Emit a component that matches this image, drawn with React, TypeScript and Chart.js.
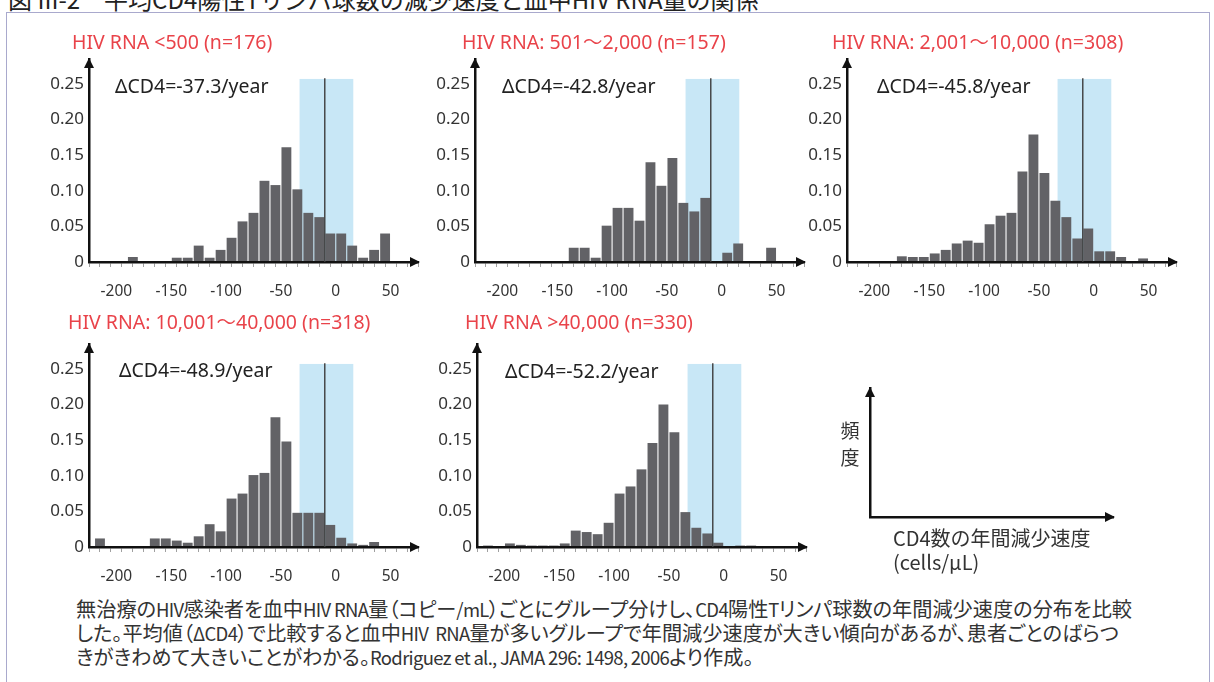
import { useEffect, useRef } from "react";
import { Chart, registerables } from "chart.js";

Chart.register(...registerables);

// ---------- data ----------
const binCenters = [
  -215, -205, -195, -185, -175, -165, -155, -145, -135, -125, -115, -105, -95, -85, -75,
  -65, -55, -45, -35, -25, -15, -5, 5, 15, 25, 35, 45, 55, 65,
];
const xTickLabels = [-200, -150, -100, -50, 0, 50];
const yTickLabels = ["0", "0.05", "0.10", "0.15", "0.20", "0.25"];

const groupTitles = [
  "HIV RNA <500 (n=176)",
  "HIV RNA: 501〜2,000 (n=157)",
  "HIV RNA: 2,001〜10,000 (n=308)",
  "HIV RNA: 10,001〜40,000 (n=318)",
  "HIV RNA >40,000 (n=330)",
];
const deltaCD4 = ["-37.3", "-42.8", "-45.8", "-48.9", "-52.2"];

const freqLt500 = [
  0, 0, 0, 0.007, 0, 0, 0, 0.006, 0.006, 0.023, 0.006, 0.017, 0.034, 0.057, 0.069,
  0.114, 0.108, 0.161, 0.102, 0.069, 0.063, 0.040, 0.040, 0.023, 0.006, 0.017, 0.040, 0, 0,
];
const freq501to2000 = [
  0, 0, 0, 0, 0, 0, 0, 0, 0.020, 0.020, 0.006, 0.051, 0.076, 0.076, 0.058,
  0.140, 0.107, 0.146, 0.083, 0.071, 0.090, 0, 0.013, 0.026, 0, 0, 0.020, 0, 0,
];
const freq2001to10000 = [
  0, 0, 0, 0, 0.008, 0.007, 0.007, 0.012, 0.017, 0.026, 0.030, 0.027, 0.053, 0.065, 0.069,
  0.127, 0.179, 0.125, 0.086, 0.063, 0.033, 0.047, 0.015, 0.015, 0.007, 0, 0.005, 0, 0,
];
const freq10001to40000 = [
  0.012, 0, 0, 0, 0, 0.012, 0.012, 0.009, 0.006, 0.015, 0.032, 0.022, 0.068, 0.075, 0.101,
  0.104, 0.182, 0.148, 0.048, 0.048, 0.048, 0.031, 0.013, 0.005, 0.003, 0.007, 0, 0, 0,
];
const freqGt40000 = [
  0.002, 0.001, 0.005, 0.003, 0.002, 0.002, 0.002, 0.005, 0.023, 0.021, 0.018, 0.034, 0.075, 0.085, 0.109,
  0.146, 0.200, 0.161, 0.049, 0.027, 0.019, 0.006, 0, 0.002, 0.002, 0.001, 0, 0, 0,
];
const seriesList = [freqLt500, freq501to2000, freq2001to10000, freq10001to40000, freqGt40000];

const bandRange = [-33, 16];
const bandTop = 0.257;
const refLine = -10;
const refLineTop = 0.258;

// ---------- layout / style ----------
const FONT = '"Noto Sans", "Noto Sans CJK JP", sans-serif';
const JP_FONT = '"Noto Sans CJK JP", "Noto Sans", sans-serif';
const Y_AXIS_W = 60;
const X_AXIS_H = 40;
const PAD_TOP = 45;
const PAD_RIGHT = 30;
const PLOT_W = 329;
const PLOT_H = 203;

const panelLayout = [
  { axisX: 89, zeroY: 262, titleDx: -17, titleDy: -219, deltaDx: 26, deltaDy: -175 },
  { axisX: 475, zeroY: 262, titleDx: -13, titleDy: -219, deltaDx: 27, deltaDy: -175 },
  { axisX: 847, zeroY: 262, titleDx: -15, titleDy: -219, deltaDx: 30, deltaDy: -175 },
  { axisX: 89, zeroY: 547, titleDx: -21, titleDy: -224, deltaDx: 30, deltaDy: -176 },
  { axisX: 477, zeroY: 547, titleDx: -12, titleDy: -224, deltaDx: 28, deltaDy: -175 },
];

function drawArrows(ctx: CanvasRenderingContext2D, area: any) {
  ctx.save();
  ctx.fillStyle = "#111";
  ctx.beginPath();
  ctx.moveTo(area.right + 2, area.bottom);
  ctx.lineTo(area.right - 8, area.bottom - 5);
  ctx.lineTo(area.right - 8, area.bottom + 5);
  ctx.closePath();
  ctx.fill();
  ctx.beginPath();
  ctx.moveTo(area.left, area.top - 1);
  ctx.lineTo(area.left - 5, area.top + 9);
  ctx.lineTo(area.left + 5, area.top + 9);
  ctx.closePath();
  ctx.fill();
  ctx.restore();
}

const decorPlugin = {
  id: "decor",
  beforeDatasetsDraw(chart: any, _args: any, o: any) {
    if (!o || !o.band) return;
    const { ctx, scales } = chart;
    const x = scales.x;
    const y = scales.y;
    const x0 = x.getPixelForValue(o.band[0]);
    const x1 = x.getPixelForValue(o.band[1]);
    const yt = y.getPixelForValue(o.bandTop);
    const yb = y.getPixelForValue(0);
    ctx.save();
    ctx.fillStyle = "#c8e7f6";
    ctx.fillRect(x0, yt, x1 - x0, yb - yt);
    ctx.restore();
  },
  afterDraw(chart: any, _args: any, o: any) {
    if (!o) return;
    const { ctx, chartArea, scales } = chart;
    if (o.line !== undefined) {
      const lx = scales.x.getPixelForValue(o.line);
      ctx.save();
      ctx.strokeStyle = "#3c3c3c";
      ctx.lineWidth = 1.4;
      ctx.beginPath();
      ctx.moveTo(lx, scales.y.getPixelForValue(o.lineTop));
      ctx.lineTo(lx, scales.y.getPixelForValue(0));
      ctx.stroke();
      ctx.restore();
    }
    drawArrows(ctx, chartArea);
    ctx.save();
    ctx.textBaseline = "middle";
    ctx.textAlign = "left";
    if (o.title) {
      ctx.font = `19.5px ${FONT}`;
      ctx.fillStyle = "#e9434a";
      ctx.fillText(o.title, chartArea.left + o.titleDx, chartArea.bottom + o.titleDy);
    }
    if (o.delta) {
      ctx.font = `19.5px ${FONT}`;
      ctx.fillStyle = "#222";
      ctx.fillText(o.delta, chartArea.left + o.deltaDx, chartArea.bottom + o.deltaDy);
    }
    if (o.texts) {
      for (const t of o.texts) {
        ctx.font = `${t.size}px ${JP_FONT}`;
        ctx.fillStyle = t.color || "#333";
        ctx.textAlign = t.align || "left";
        ctx.fillText(t.text, chartArea.left + t.dx, t.fromTop ? chartArea.top + t.dy : chartArea.bottom + t.dy);
      }
    }
    ctx.restore();
  },
};

function panelConfig(i: number) {
  const values = seriesList[i];
  const L = panelLayout[i];
  return {
    type: "bar",
    data: {
      datasets: [
        {
          data: binCenters.map((c, k) => ({ x: c, y: values[k] })),
          backgroundColor: "#626266",
          borderWidth: 0,
          barPercentage: 0.9,
          categoryPercentage: 1,
        },
      ],
    },
    options: {
      responsive: false,
      animation: false,
      events: [],
      layout: { padding: { left: 0, top: PAD_TOP, right: PAD_RIGHT, bottom: 0 } },
      plugins: {
        legend: { display: false },
        tooltip: { enabled: false },
        decor: {
          band: bandRange,
          bandTop,
          line: refLine,
          lineTop: refLineTop,
          title: groupTitles[i],
          delta: `ΔCD4=${deltaCD4[i]}/year`,
          titleDx: L.titleDx,
          titleDy: L.titleDy,
          deltaDx: L.deltaDx,
          deltaDy: L.deltaDy,
        },
      },
      scales: {
        x: {
          type: "linear",
          min: -220,
          max: 70,
          afterFit: (s: any) => {
            s.height = X_AXIS_H;
          },
          ticks: {
            stepSize: 10,
            autoSkip: false,
            maxRotation: 0,
            padding: 15,
            color: "#333",
            font: { family: FONT, size: 15.5 },
            callback: (v: any) => {
              const r = Math.round(v);
              return xTickLabels.includes(r) ? String(r) : "";
            },
          },
          grid: {
            display: true,
            drawOnChartArea: false,
            drawTicks: true,
            tickLength: 5,
            tickColor: "#a0a0a0",
            tickWidth: 1,
          },
          border: { display: true, color: "#111", width: 2.5, z: 1 },
        },
        y: {
          type: "linear",
          min: 0,
          max: 0.285,
          afterFit: (s: any) => {
            s.width = Y_AXIS_W;
          },
          ticks: {
            stepSize: 0.05,
            includeBounds: false,
            padding: 5,
            color: "#333",
            font: { family: FONT, size: 17 },
            callback: (v: any) => yTickLabels[Math.round(v / 0.05)] ?? "",
          },
          grid: { display: true, drawOnChartArea: false, drawTicks: false },
          border: { display: true, color: "#111", width: 2.5, z: 1 },
        },
      },
    },
    plugins: [decorPlugin],
  };
}

function legendConfig() {
  return {
    type: "scatter",
    data: { datasets: [{ data: [] as any[] }] },
    options: {
      responsive: false,
      animation: false,
      events: [],
      layout: { padding: { left: 70, top: 18, right: 101, bottom: 73 } },
      plugins: {
        legend: { display: false },
        tooltip: { enabled: false },
        decor: {
          texts: [
            { text: "頻", dx: -20, dy: 43, fromTop: true, size: 19, align: "center" },
            { text: "度", dx: -20, dy: 70, fromTop: true, size: 19, align: "center" },
            { text: "CD4数の年間減少速度", dx: 23, dy: 21, size: 20 },
            { text: "(cells/μL)", dx: 23, dy: 45, size: 20 },
          ],
        },
      },
      scales: {
        x: {
          type: "linear",
          min: 0,
          max: 1,
          afterFit: (s: any) => {
            s.height = 0;
          },
          ticks: { display: false },
          grid: { display: true, drawOnChartArea: false, drawTicks: false },
          border: { display: true, color: "#111", width: 2.5, z: 1 },
        },
        y: {
          type: "linear",
          min: 0,
          max: 1,
          afterFit: (s: any) => {
            s.width = 0;
          },
          ticks: { display: false },
          grid: { display: true, drawOnChartArea: false, drawTicks: false },
          border: { display: true, color: "#111", width: 2.5, z: 1 },
        },
      },
    },
    plugins: [decorPlugin],
  };
}

function ChartCanvas(props: { make: () => any; left: number; top: number; width: number; height: number }) {
  const ref = useRef<HTMLCanvasElement>(null);
  useEffect(() => {
    const chart = new Chart(ref.current as HTMLCanvasElement, props.make());
    return () => chart.destroy();
  }, []);
  return (
    <canvas
      ref={ref}
      width={props.width}
      height={props.height}
      style={{ position: "absolute", left: props.left, top: props.top, width: props.width, height: props.height }}
    />
  );
}

function Lt(props: { children: any }) {
  return <span style={{ fontSize: 18.5, letterSpacing: -0.7 }}>{props.children}</span>;
}

export default function App() {
  const canvasW = Y_AXIS_W + PLOT_W + PAD_RIGHT;
  const canvasH = PAD_TOP + PLOT_H + X_AXIS_H;
  return (
    <div
      style={{
        position: "fixed",
        left: 0,
        top: 0,
        width: 1214,
        height: 682,
        overflow: "hidden",
        background: "#fff",
        fontFamily: JP_FONT,
      }}
    >
      <div
        style={{
          position: "absolute",
          left: 8,
          top: -13,
          fontSize: 24,
          lineHeight: "23px",
          whiteSpace: "nowrap",
          color: "#222",
          fontWeight: 400,
        }}
      >
        図 III-2　平均CD4陽性Tリンパ球数の減少速度と血中HIV RNA量の関係
      </div>
      <div
        style={{
          position: "absolute",
          left: 6,
          top: 12,
          width: 1204,
          height: 700,
          border: "1.5px solid #a9a9cd",
          boxSizing: "border-box",
        }}
      />
      {panelLayout.map((L, i) => (
        <ChartCanvas
          key={i}
          make={() => panelConfig(i)}
          left={L.axisX - Y_AXIS_W}
          top={L.zeroY - PLOT_H - PAD_TOP}
          width={canvasW}
          height={canvasH}
        />
      ))}
      <ChartCanvas make={legendConfig} left={800} top={370} width={414} height={220} />
      <div
        style={{
          position: "absolute",
          left: 76,
          top: 597,
          fontSize: 20.2,
          lineHeight: "23px",
          color: "#333",
          whiteSpace: "nowrap",
          fontFeatureSettings: '"palt"',
        }}
      >
        無治療の<Lt>HIV</Lt>感染者を血中<Lt>HIV RNA</Lt>量（コピー<Lt>/mL</Lt>）ごとにグループ分けし、<Lt>CD4</Lt>陽性<Lt>T</Lt>リンパ球数の年間減少速度の分布を比較
        <br />
        した。平均値（<Lt>ΔCD4</Lt>）で比較すると血中<Lt>HIV&nbsp;&nbsp;RNA</Lt>量が多いグループで年間減少速度が大きい傾向があるが、患者ごとのばらつ
        <br />
        きがきわめて大きいことがわかる。<Lt>Rodriguez et al., JAMA 296: 1498, 2006</Lt>より作成。
      </div>
    </div>
  );
}
